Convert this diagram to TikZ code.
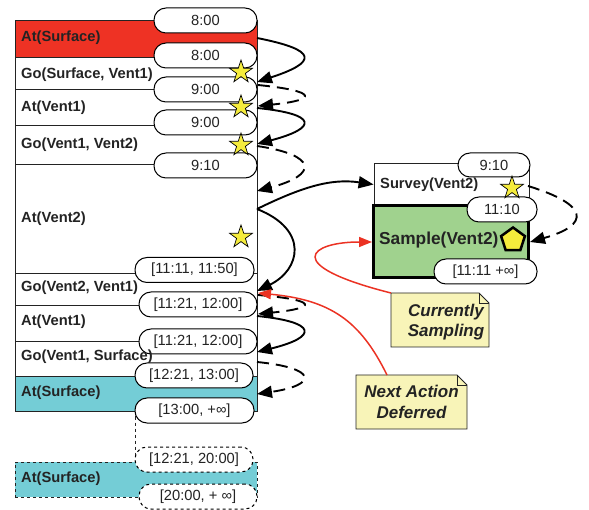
\documentclass[tikz,border=0pt]{standalone}
\usepackage{fontspec}
\setmainfont{Liberation Sans}
\usetikzlibrary{shapes.geometric,arrows.meta}
\definecolor{redfill}{RGB}{238,50,36}
\definecolor{cyanfill}{RGB}{116,205,214}
\definecolor{greenfill}{RGB}{160,210,142}
\definecolor{notefill}{RGB}{248,244,184}
\definecolor{staryellow}{RGB}{245,236,60}
\definecolor{txt}{RGB}{35,35,35}
\definecolor{redline}{RGB}{235,50,35}
\begin{document}
\begin{tikzpicture}[x=1pt,y=-1pt,
 rowbox/.style={draw=txt, line width=0.8pt, minimum width=242, inner sep=0},
 lab/.style={anchor=west, inner sep=0, text=txt, font=\fontsize{14.7}{17}\selectfont\bfseries},
 pill/.style={draw=black, fill=white, line width=1pt, rounded corners=12pt, minimum height=25, inner sep=0, text=txt, font=\fontsize{14.7}{17}\selectfont},
 ystar/.style={star, star points=5, star point ratio=2.6, minimum size=24, inner sep=0, fill=staryellow, draw=black, line width=0.7pt},
 conn/.style={line width=1.9pt, -{Triangle[length=15pt,width=12pt]}},
 dconn/.style={conn, dash pattern=on 12pt off 7pt},
 rconn/.style={draw=redline, line width=1.5pt, -{Triangle[length=13pt,width=10pt]}},
 notebox/.style={fill=notefill, draw=txt, line width=0.8pt},
 notetext/.style={align=center, inner sep=0, text=txt, font=\fontsize{17}{20.5}\selectfont\bfseries\itshape}
]
\useasboundingbox (0,0) rectangle (589,510);
% main column rows
\node[rowbox, fill=redfill, minimum height=37] (r1) at (136,38.5) {};
\node[rowbox, fill=white, minimum height=32] (r2) at (136,73) {};
\node[rowbox, fill=white, minimum height=36] (r3) at (136,107) {};
\node[rowbox, fill=white, minimum height=39] (r4) at (136,144.5) {};
\node[rowbox, fill=white, minimum height=109] (r5) at (136,218.5) {};
\node[rowbox, fill=white, minimum height=32] (r6) at (136,289) {};
\node[rowbox, fill=white, minimum height=36] (r7) at (136,323) {};
\node[rowbox, fill=white, minimum height=35] (r8) at (136,358.5) {};
\node[rowbox, fill=cyanfill, minimum height=35] (r9) at (136,393.5) {};
\node[rowbox, fill=cyanfill, minimum height=35, dashed] (rd) at (136,479.5) {};
% dashed link
\draw[txt, line width=0.8pt, dashed] (135,410.5) coordinate (dl1) -- (135,459.5) coordinate (dl2);
% pills
\node[pill, minimum width=103] (p1) at (205.5,20.5) {8:00};
\node[pill, minimum width=103] (p2) at (205.5,55.5) {8:00};
\node[pill, minimum width=103] (p3) at (205.5,89.5) {9:00};
\node[pill, minimum width=103] (p4) at (205.5,122.5) {9:00};
\node[pill, minimum width=103] (p5) at (205.5,165.5) {9:10};
\node[pill, minimum width=119] (p6) at (194.5,270) {[11:11, 11:50]};
\node[pill, minimum width=118] (p7) at (198,304.5) {[11:21, 12:00]};
\node[pill, minimum width=118] (p8) at (198,341.5) {[11:21, 12:00]};
\node[pill, minimum width=118] (p9) at (194,375.5) {[12:21, 13:00]};
\node[pill, minimum width=119] (p10) at (194.5,410.5) {[13:00, +∞]};
\node[pill, minimum width=118, dashed] (p11) at (194,459.5) {[12:21, 20:00]};
\node[pill, minimum width=118, dashed] (p12) at (198,496.5) {[20:00, + ∞]};
% stars
\node[ystar] (s1a) at (241,72) {};
\node[ystar] (s1b) at (241,107) {};
\node[ystar] (s1c) at (241,145) {};
\node[ystar] (s1d) at (241,237) {};
% row labels
\node[lab] (l1) at (21,38) {At(Surface)};
\node[lab] (l2) at (21,75) {Go(Surface, Vent1)};
\node[lab] (l3) at (21,108) {At(Vent1)};
\node[lab] (l4) at (21,145) {Go(Vent1, Vent2)};
\node[lab] (l5) at (21,219) {At(Vent2)};
\node[lab] (l6) at (21,288) {Go(Vent2, Vent1)};
\node[lab] (l7) at (21,322) {At(Vent1)};
\node[lab] (l8) at (21,357) {Go(Vent1, Surface)};
\node[lab] (l9) at (21,393) {At(Surface)};
\node[lab] (l10) at (21,479) {At(Surface)};
% right boxes
\node[draw=txt, fill=white, line width=0.8pt, minimum width=155, minimum height=43, inner sep=0] (sv) at (451.5,184.5) {};
\node[draw=black, fill=greenfill, line width=3pt, minimum width=155, minimum height=72, inner sep=0] (sm) at (451,242) {};
\node[pill, minimum width=72, minimum height=24] (q1) at (494,165) {9:10};
\node[pill, minimum width=70] (q2) at (502,209.5) {11:10};
\node[pill, minimum width=103] (q3) at (485.5,271.5) {[11:11 +∞]};
\node[ystar] (s2) at (512,188) {};
\node[regular polygon, regular polygon sides=5, minimum size=25, inner sep=0, fill=staryellow, draw=black, line width=2.5pt] (pg) at (513,240) {};
\node[lab] (ls) at (380,185) {Survey(Vent2)};
\node[lab, font=\fontsize{17.3}{20}\selectfont\bfseries] (lm) at (379,240) {Sample(Vent2)};
% notes
\filldraw[notebox] (391,293) coordinate (n1c) -- (479,293) -- (489,303) -- (489,347) -- (391,347) -- cycle;
\draw[txt, line width=0.8pt] (479,293) -- (479,303) -- (489,303);
\node[notetext] (n1) at (446,322) {Currently\\Sampling};
\filldraw[notebox] (356,375) -- (457,375) -- (467,385) -- (467,429) -- (356,429) -- cycle;
\draw[txt, line width=0.8pt] (457,375) -- (457,385) -- (467,385);
\coordinate (n2c) at (387,375);
\node[notetext] (n2) at (411.5,402) {Next Action\\Deferred};
% connector endpoints on the column
\coordinate (a0) at (257,38);
\coordinate (a1) at (257,82);
\coordinate (b0) at (258,85);
\coordinate (b1) at (258,106);
\coordinate (a2) at (257,108);
\coordinate (a3) at (257,144);
\coordinate (b2) at (257,146);
\coordinate (b3) at (257,191);
\coordinate (a4) at (257,209);
\coordinate (a5) at (257,291);
\coordinate (b4) at (258,295);
\coordinate (b5) at (258,314);
\coordinate (a6) at (257,316);
\coordinate (a7) at (257,352);
\coordinate (b6) at (257,362);
\coordinate (b7) at (257,394);
\coordinate (e6) at (258,293);
\coordinate (sv1) at (528,186);
% black connectors
\draw[conn] (a0) .. controls (318,50) and (318,62) .. (a1);
\draw[dconn] (b0) .. controls (318,91) and (318,100) .. (b1);
\draw[conn] (a2) .. controls (318,114) and (318,128) .. (a3);
\draw[dconn] (b2) .. controls (318,155) and (318,175) .. (b3);
\draw[conn] (a4) .. controls (300,188) and (330,178) .. (sv.west);
\draw[conn] (a4) .. controls (310,230) and (300,270) .. (a5);
\draw[dconn] (sv1) .. controls (590,205) and (590,225) .. (sm.east);
\draw[dconn] (b4) .. controls (318,300) and (318,308) .. (b5);
\draw[conn] (a6) .. controls (318,322) and (318,337) .. (a7);
\draw[dconn] (b6) .. controls (318,368) and (318,385) .. (b7);
% red connectors
\draw[rconn] (n1c) .. controls (280,265) and (310,242) .. (sm.west);
\draw[rconn] (n2c) .. controls (360,320) and (330,300) .. (e6);
\end{tikzpicture}
\end{document}
